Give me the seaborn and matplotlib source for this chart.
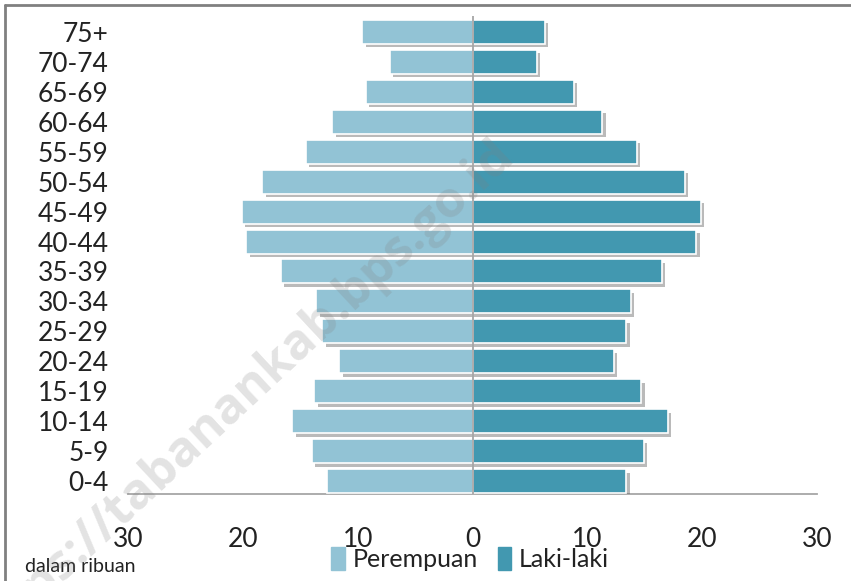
import pandas as pd
import numpy as np
import matplotlib
matplotlib.use('Agg')
import matplotlib.pyplot as plt
import matplotlib.patheffects as pe
from matplotlib.lines import Line2D
from matplotlib.ticker import FuncFormatter
import seaborn as sns

# Kelompok umur, atas ke bawah
kelompok_umur = ['75+', '70-74', '65-69', '60-64', '55-59', '50-54', '45-49', '40-44',
                 '35-39', '30-34', '25-29', '20-24', '15-19', '10-14', '5-9', '0-4']
# dalam ribuan
perempuan = [9.6, 7.2, 9.3, 12.2, 14.5, 18.3, 20.1, 19.7,
             16.7, 13.6, 13.1, 11.6, 13.8, 15.7, 14.0, 12.7]
laki_laki = [6.3, 5.6, 8.8, 11.3, 14.3, 18.5, 19.9, 19.5,
             16.5, 13.8, 13.4, 12.3, 14.7, 17.0, 14.9, 13.4]
x_ticks = [-30, -20, -10, 0, 10, 20, 30]

warna = {'Perempuan': '#92C3D5', 'Laki-laki': '#4298B0'}

df = pd.DataFrame({
    'umur': kelompok_umur * 2,
    'jumlah': [-v for v in perempuan] + laki_laki,
    'jenis': ['Perempuan'] * len(perempuan) + ['Laki-laki'] * len(laki_laki),
})

sns.set_style('white')
plt.rcParams['font.family'] = ['Lato', 'DejaVu Sans']

fig = plt.figure(figsize=(8.51, 5.81), dpi=100)
ax = fig.add_axes([128 / 851, 1 - 494 / 581, (817 - 128) / 851, (494 - 16) / 581])

sns.barplot(data=df, x='jumlah', y='umur', hue='jenis', order=kelompok_umur,
            hue_order=['Perempuan', 'Laki-laki'], palette=warna, dodge=False,
            orient='h', width=0.8, saturation=1, edgecolor='white', linewidth=1.2,
            ax=ax, legend=False, zorder=3)

shadow = [pe.SimplePatchShadow(offset=(2.5, -2.5), shadow_rgbFace='#666666', alpha=0.45),
          pe.Normal()]
for p in ax.patches:
    p.set_path_effects(shadow)

ax.axvline(0, color='#a6a6a6', lw=1.3, zorder=4)
ax.set_xlim(-30, 30)
ax.set_ylim(15.43, -0.53)
ax.set_xticks(x_ticks)
ax.xaxis.set_major_formatter(FuncFormatter(lambda v, pos: f'{abs(int(v))}'))
ax.set_xlabel('')
ax.set_ylabel('')

for s in ['top', 'right', 'left']:
    ax.spines[s].set_visible(False)
ax.spines['bottom'].set_color('#a6a6a6')
ax.spines['bottom'].set_linewidth(1.3)
ax.tick_params(axis='x', direction='in', length=10, width=1.2, color='#a6a6a6',
               pad=24, labelsize=19, labelcolor='#222222')
ax.tick_params(axis='y', length=0, pad=14, labelsize=19, labelcolor='#222222')
ax.grid(False)

# legenda
handles = [plt.Rectangle((0, 0), 1, 1, color=warna['Perempuan']),
           plt.Rectangle((0, 0), 1, 1, color=warna['Laki-laki'])]
fig.legend(handles, ['Perempuan', 'Laki-laki'], loc='center', ncol=2,
           bbox_to_anchor=(470 / 851, 1 - 559 / 581), frameon=False,
           fontsize=18, handlelength=0.55, handleheight=1.0, handletextpad=0.3,
           columnspacing=0.8, labelcolor='#222222')

fig.text(25 / 851, 1 - 567 / 581, 'dalam ribuan', fontsize=14, color='#222222',
         va='center', ha='left')

# watermark
fig.text(0.282, 0.318, 'https://tabanankab.bps.go.id', fontsize=36, fontweight='bold',
         family=['Open Sans', 'DejaVu Sans'], color='#808080', alpha=0.22,
         rotation=43, ha='center', va='center', zorder=10)

# bingkai atas & kiri
fig.add_artist(Line2D([5 / 851, 1], [1 - 5 / 581, 1 - 5 / 581], color='#808080', lw=2))
fig.add_artist(Line2D([5 / 851, 5 / 851], [0, 1 - 5 / 581], color='#808080', lw=2))

fig.savefig('out.png', dpi=100, facecolor='white')
